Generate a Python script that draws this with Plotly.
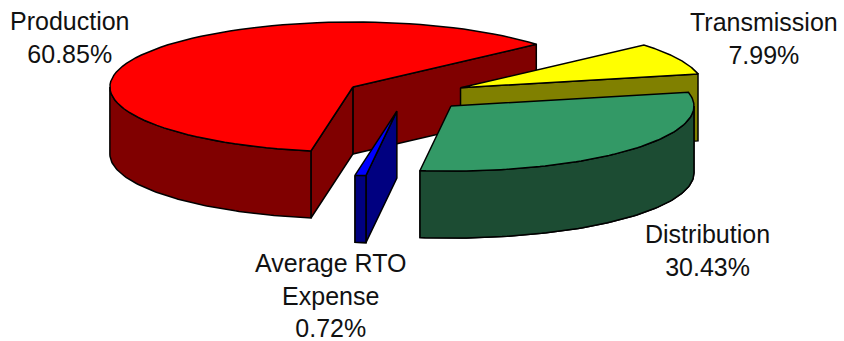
import math
import plotly.graph_objects as go

# Slice data, in drawing order (back to front)
categories = ["Production", "Transmission", "Distribution", "Average RTO<br>Expense"]
shares = [60.85, 7.99, 30.43, 0.72]
top_colors = ["#FF0000", "#FFFF00", "#339966", "#0000FF"]
side_colors = ["#800000", "#808000", "#1C4C33", "#000080"]
label_x = [70, 764, 707, 330]
label_y = [37, 38, 250, 295]

# Tilted-pie geometry in pixel units
CX, CY = 406, 95
RX, RY = 243, 65
DEPTH = 67
EXPLODE = 61
FIRST_EDGE = 41.0  # angle where Production and Transmission meet


def arc(cx, cy, a0, a1, drop=0, steps=80):
    pts = []
    for i in range(steps + 1):
        a = math.radians(a0 + (a1 - a0) * i / steps)
        pts.append((cx + RX * math.cos(a), cy - RY * math.sin(a) + drop))
    return pts


def polygon(fig, pts, color):
    xs = [p[0] for p in pts] + [pts[0][0]]
    ys = [p[1] for p in pts] + [pts[0][1]]
    fig.add_trace(go.Scatter(x=xs, y=ys, mode="lines", fill="toself", fillcolor=color,
                             line=dict(color="black", width=1.5), hoverinfo="skip",
                             showlegend=False))


# Walk clockwise from the first edge to get each slice's angular span
spans = {}
edge = FIRST_EDGE
for name, share in zip(categories, shares):
    if name == "Production":
        continue
    spans[name] = (edge, edge - share * 3.6)
    edge -= share * 3.6
production = shares[categories.index("Production")]
spans["Production"] = (FIRST_EDGE + production * 3.6, FIRST_EDGE)

fig = go.Figure()
for name, share, top, side in zip(categories, shares, top_colors, side_colors):
    hi, lo = spans[name]
    mid = math.radians((hi + lo) / 2)
    cx = CX + EXPLODE * math.cos(mid)
    cy = CY - EXPLODE * RY / RX * math.sin(mid)

    # Cut faces turned towards the viewer
    for angle, normal in ((lo, lo - 90), (hi, hi + 90)):
        if math.sin(math.radians(normal)) < 0:
            rim = arc(cx, cy, angle, angle, steps=1)[0]
            polygon(fig, [(cx, cy), rim, (rim[0], rim[1] + DEPTH), (cx, cy + DEPTH)], side)

    # Outer wall: only the front half of the rim can be seen
    for lap in (-360, 0):
        for a0, a1 in ((max(lo, lap - 180), min(hi, lap)),
                       (max(lo, lap + 180), min(hi, lap + 360))):
            if a0 < a1:
                polygon(fig, arc(cx, cy, a0, a1) + arc(cx, cy, a1, a0, DEPTH), side)

    # Top surface
    polygon(fig, [(cx, cy)] + arc(cx, cy, lo, hi), top)

for name, share, x, y in zip(categories, shares, label_x, label_y):
    fig.add_annotation(x=x, y=y, xref="x", yref="y", text=f"{name}<br>{share:.2f}%",
                       showarrow=False, xanchor="center", yanchor="middle", align="center",
                       font=dict(family="Liberation Sans, Arial, sans-serif", size=25, color="#111111"))

fig.update_layout(width=844, height=341, margin=dict(l=0, r=0, t=0, b=0),
                  paper_bgcolor="white", plot_bgcolor="white",
                  xaxis=dict(range=[0, 844], visible=False, fixedrange=True),
                  yaxis=dict(range=[341, 0], visible=False, fixedrange=True))
fig.write_html("out.html", config=dict(displayModeBar=False))
